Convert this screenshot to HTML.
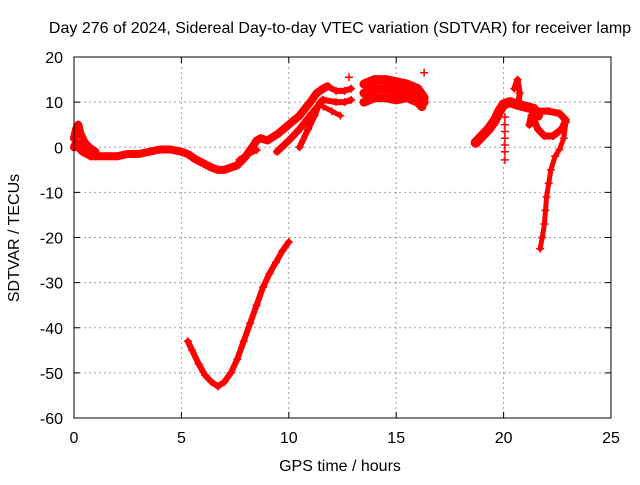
<!DOCTYPE html>
<html><head><meta charset="utf-8"><style>
body{margin:0;background:#fff}
text{font-family:"Liberation Sans",sans-serif;font-size:16px;fill:#000}
</style></head><body>
<svg id="c" width="640" height="480" xmlns="http://www.w3.org/2000/svg">
<text x="340" y="33" text-anchor="middle">Day 276 of 2024, Sidereal Day-to-day VTEC variation (SDTVAR) for receiver lamp</text>
<text x="340" y="471" text-anchor="middle">GPS time / hours</text>
<text transform="translate(19,238) rotate(-90)" text-anchor="middle">SDTVAR / TECUs</text>
<g id="grid"></g><g id="ticks"></g><g id="marks"></g>
<rect x="74" y="57" width="537" height="361" fill="none" stroke="#000"/>
</svg>
<script>
const xTicks=[0,5,10,15,20,25];
const yTicks=[-60,-50,-40,-30,-20,-10,0,10,20];
const mainBand=[[0,0],[0.1,1],[0.2,0],[0.4,-1],[0.6,-1.5],[0.8,-2],[1,-2],[1.5,-2],[2,-2],[2.5,-1.5],[3,-1.5],[3.5,-1],[4,-0.5],[4.5,-0.5],[5,-1],[5.3,-1.5],[5.6,-2.5],[6,-3.5],[6.4,-4.5],[6.7,-5],[7,-5],[7.3,-4.5],[7.6,-4],[8,-2],[8.3,0],[8.5,1.5],[8.7,2],[9,1.5],[9.5,3],[10,5],[10.5,7],[11,10],[11.3,12],[11.6,13],[11.8,13.5]];
const earlySpike=[[0,2],[0.1,4],[0.2,5],[0.3,3],[0.5,1],[0.7,0],[1,-1]];
const strandLowA=[[7.7,-2.8],[8.1,-1.5],[8.5,-0.6]];
const strandLowB=[[9.45,-1],[10,1.5],[10.5,4],[11,7],[11.6,10.5]];
const strandLowC=[[10.5,0],[10.9,4],[11.2,7],[11.45,10]];
const pieces12a=[[11.8,13.5],[12.2,12.5],[12.6,12.5],[12.9,13]];
const pieces12b=[[11.6,10.5],[12.2,10],[12.6,10],[12.9,10.5]];
const pieces12c=[[11.6,9],[12,8],[12.4,7]];
const blobTop=[[13.5,14],[14,15],[14.5,15],[15,14.5],[15.5,14],[16,13],[16.3,11]];
const blobMid=[[13.5,12],[14,13],[14.5,13],[15,12.5],[15.5,12],[16,11.5],[16.3,10]];
const blobLow=[[13.5,10],[14,11],[14.5,11],[15,10.5],[15.5,11],[16,10],[16.2,9]];
const singles=[[12.8,15.5],[16.3,16.5],[16.2,9]];
const trough=[[5.3,-43],[5.5,-45],[5.8,-48],[6.1,-50.5],[6.4,-52],[6.7,-53],[7,-52],[7.3,-50],[7.6,-47],[7.9,-43],[8.2,-39],[8.5,-35],[8.8,-31],[9.1,-28],[9.4,-25.5],[9.7,-23],[10,-21]];
const lateRise=[[18.7,1],[19,2.5],[19.3,4],[19.6,6],[19.8,8],[20,9.5],[20.3,10],[20.6,9.5],[21,9],[21.4,8.5],[21.6,7]];
const spike20=[[20.5,13],[20.65,15],[20.75,12],[20.7,10]];
const column20=[[20.06,6.7],[20.06,5],[20.06,3.5],[20.06,2],[20.06,0.5],[20.06,-1],[20.06,-2.8]];
const loop22=[[21.4,6],[21.6,4],[21.9,2.5],[22.3,2.5],[22.7,4],[22.9,6],[22.6,7.5],[22.1,8],[21.6,8],[21.3,7],[21.2,5]];
const tail=[[22.9,5.5],[22.8,2],[22.6,-0.5],[22.4,-2],[22.2,-5],[22.1,-8],[22,-11],[21.95,-14],[21.9,-17],[21.8,-20],[21.7,-22.5]];
const X=v=>74+v*537/25, Y=v=>57+(20-v)*361/80;
const NS="http://www.w3.org/2000/svg";
function mk(t,a,parent){const e=document.createElementNS(NS,t);for(const k in a)e.setAttribute(k,a[k]);document.getElementById(parent).appendChild(e);return e;}
xTicks.forEach(v=>{
 if(v>0&&v<25){const g=mk('line',{x1:X(v),x2:X(v),y1:57,y2:418,stroke:'#a0a0a0','stroke-dasharray':'2,3'},'grid');
 
 }
 const t=mk('text',{x:X(v),y:443,'text-anchor':'middle'},'ticks');t.textContent=v;
 
 
 mk('line',{x1:X(v),x2:X(v),y1:418,y2:412,stroke:'#000'},'ticks');mk('line',{x1:X(v),x2:X(v),y1:57,y2:63,stroke:'#000'},'ticks');
});
yTicks.forEach(v=>{
 if(v>-60&&v<20){const g=mk('line',{x1:74,x2:611,y1:Y(v),y2:Y(v),stroke:'#a0a0a0','stroke-dasharray':'2,3'},'grid');
 
 }
 const t=mk('text',{x:63,y:Y(v)+6,'text-anchor':'end'},'ticks');t.textContent=v;
 
 
 mk('line',{x1:74,x2:80,y1:Y(v),y2:Y(v),stroke:'#000'},'ticks');mk('line',{x1:611,x2:605,y1:Y(v),y2:Y(v),stroke:'#000'},'ticks');
});
function series(pts,name,w,line){
 const g=mk('g',{},'marks');
 
 
 if(line){const p=document.createElementNS(NS,'polyline');
  p.setAttribute('points',pts.map(d=>X(d[0])+','+Y(d[1])).join(' '));
  p.setAttribute('fill','none');p.setAttribute('stroke','#f00');p.setAttribute('stroke-width',w);p.setAttribute('stroke-linejoin','round');p.setAttribute('stroke-linecap','round');g.appendChild(p);}
 pts.forEach(d=>{const m=document.createElementNS(NS,'path');
  const x=X(d[0]),y=Y(d[1]);
  m.setAttribute('d',`M${x-4},${y}H${x+4}M${x},${y-4}V${y+4}`);m.setAttribute('stroke','#f00');m.setAttribute('stroke-width','1.5');g.appendChild(m);});
}
series(mainBand,'main-band',8,true);
series(earlySpike,'early-spike',8,true);
series(strandLowA,'strand-low-a',6,true);
series(strandLowB,'strand-low-b',7,true);
series(strandLowC,'strand-low-c',6,true);
series(pieces12a,'pieces-12h-top',6,true);
series(pieces12b,'pieces-12h-mid',6,true);
series(pieces12c,'pieces-12h-low',5,true);
series(blobTop,'blob-top',9,true);
series(blobMid,'blob-mid',9,true);
series(blobLow,'blob-low',9,true);
series(singles,'single-points',1,false);
series(trough,'trough',6,true);
series(lateRise,'late-rise',10,true);
series(spike20,'spike-20h',6,true);
series(column20,'column-20h',1,false);
series(loop22,'loop-22h',7,true);
series(tail,'tail-22h',5,true);
</script>
</body></html>
